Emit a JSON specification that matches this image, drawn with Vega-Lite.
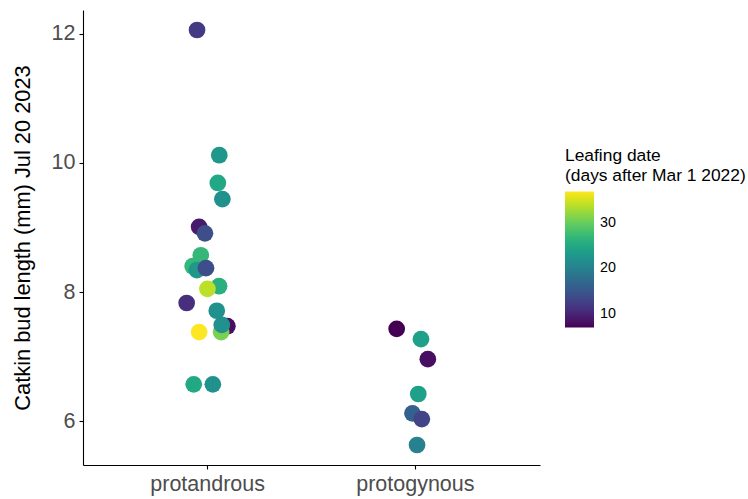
{
  "$schema": "https://vega.github.io/schema/vega-lite/v6.json",
  "autosize": "none",
  "width": 457,
  "height": 455,
  "padding": {"left": 83, "top": 10, "right": 208, "bottom": 34},
  "background": "white",
  "config": {
    "view": {"stroke": null},
    "font": "Liberation Sans",
    "axis": {"grid": false, "domainColor": "black", "tickColor": "black", "domainWidth": 1.1, "tickWidth": 1.1, "tickSize": 4, "labelColor": "#4d4d4d", "labelFontSize": 21.5, "titleFontSize": 21.8, "titleFontWeight": "normal", "titleColor": "black", "labelFont": "Liberation Sans", "titleFont": "Liberation Sans"}
  },
  "data": {
    "values": [
      {"type": "protandrous", "len": 12.06, "jit": -0.051, "leaf": 12},
      {"type": "protandrous", "len": 10.12, "jit": 0.056, "leaf": 23},
      {"type": "protandrous", "len": 9.69, "jit": 0.049, "leaf": 25},
      {"type": "protandrous", "len": 9.44, "jit": 0.071, "leaf": 22},
      {"type": "protandrous", "len": 9.01, "jit": -0.041, "leaf": 9},
      {"type": "protandrous", "len": 8.91, "jit": -0.013, "leaf": 14},
      {"type": "protandrous", "len": 8.57, "jit": -0.033, "leaf": 27},
      {"type": "protandrous", "len": 8.40, "jit": -0.072, "leaf": 27},
      {"type": "protandrous", "len": 8.34, "jit": -0.052, "leaf": 23},
      {"type": "protandrous", "len": 8.37, "jit": -0.008, "leaf": 14},
      {"type": "protandrous", "len": 8.09, "jit": 0.055, "leaf": 26},
      {"type": "protandrous", "len": 8.05, "jit": -0.001, "leaf": 34},
      {"type": "protandrous", "len": 7.83, "jit": -0.101, "leaf": 11},
      {"type": "protandrous", "len": 7.71, "jit": 0.044, "leaf": 22},
      {"type": "protandrous", "len": 7.47, "jit": 0.095, "leaf": 8},
      {"type": "protandrous", "len": 7.38, "jit": 0.065, "leaf": 31},
      {"type": "protandrous", "len": 7.49, "jit": 0.068, "leaf": 22},
      {"type": "protandrous", "len": 7.38, "jit": -0.041, "leaf": 37},
      {"type": "protandrous", "len": 6.57, "jit": -0.067, "leaf": 25},
      {"type": "protandrous", "len": 6.57, "jit": 0.025, "leaf": 22},
      {"type": "protogynous", "len": 7.43, "jit": -0.090, "leaf": 7},
      {"type": "protogynous", "len": 7.27, "jit": 0.027, "leaf": 24},
      {"type": "protogynous", "len": 6.96, "jit": 0.060, "leaf": 8},
      {"type": "protogynous", "len": 6.42, "jit": 0.014, "leaf": 24},
      {"type": "protogynous", "len": 6.12, "jit": -0.014, "leaf": 16},
      {"type": "protogynous", "len": 6.03, "jit": 0.031, "leaf": 13},
      {"type": "protogynous", "len": 5.63, "jit": 0.008, "leaf": 20}
    ]
  },
  "mark": {"type": "circle", "size": 280, "opacity": 1},
  "encoding": {
    "x": {
      "field": "type", "type": "nominal",
      "scale": {"paddingInner": 0, "paddingOuter": 0.1},
      "axis": {"title": null, "labelAngle": 0, "labelPadding": 4}
    },
    "xOffset": {
      "field": "jit", "type": "quantitative",
      "scale": {"domain": [-0.5, 0.5]}
    },
    "y": {
      "field": "len", "type": "quantitative",
      "scale": {"domain": [5.32, 12.37], "nice": false, "zero": false},
      "axis": {"title": "Catkin bud length (mm) Jul 20 2023", "values": [6, 8, 10, 12], "labelPadding": 4, "titlePadding": 17}
    },
    "color": {
      "field": "leaf", "type": "quantitative",
      "scale": {"scheme": "viridis", "domain": [7, 37]},
      "legend": {
        "title": ["Leafing date", "(days after Mar 1 2022)"],
        "orient": "none", "legendX": 482, "legendY": 137,
        "values": [10, 20, 30],
        "gradientLength": 136, "gradientThickness": 29,
        "titleFontSize": 17.4, "titleFontWeight": "normal", "titleColor": "black", "titleLineHeight": 20, "titleLimit": 400,
        "labelFontSize": 14.3, "labelColor": "black", "titlePadding": 7,
        "gradientStrokeWidth": 0, "labelOffset": 6
      }
    }
  }
}
